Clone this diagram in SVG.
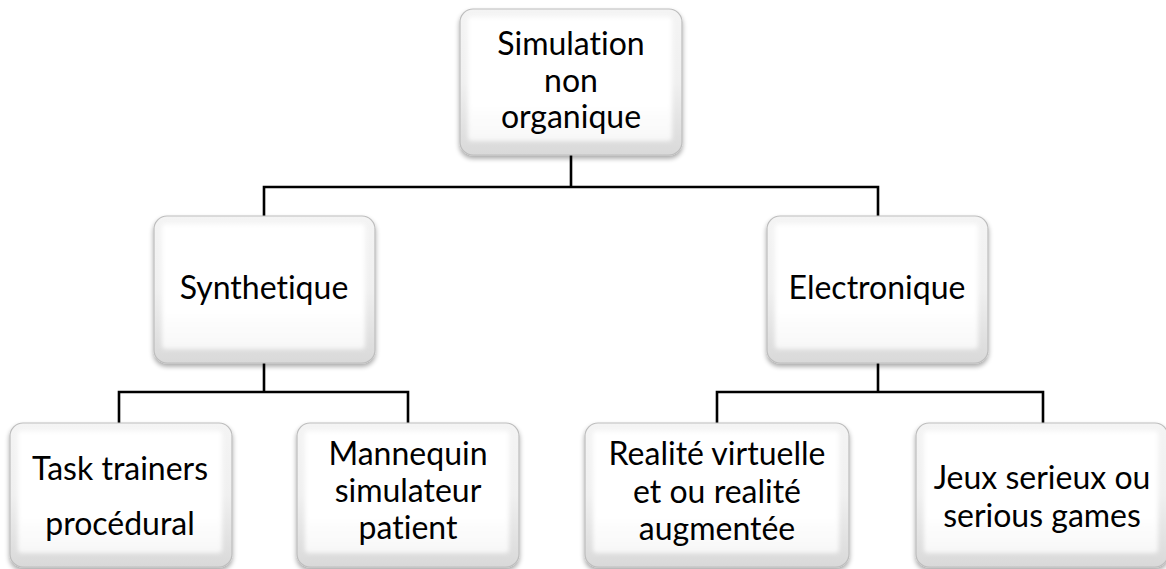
<svg xmlns="http://www.w3.org/2000/svg" width="1166" height="569" viewBox="0 0 1166 569">
  <defs>
    <linearGradient id="rim" x1="0" y1="0" x2="0" y2="1">
      <stop offset="0" stop-color="#f4f4f4"/>
      <stop offset="0.5" stop-color="#f0f0f0"/>
      <stop offset="1" stop-color="#d9d9d9"/>
    </linearGradient>
    <linearGradient id="face" x1="0" y1="0" x2="0" y2="1">
      <stop offset="0" stop-color="#ffffff"/>
      <stop offset="0.7" stop-color="#ffffff"/>
      <stop offset="1" stop-color="#f7f7f7"/>
    </linearGradient>
    <filter id="shadow" x="-10%" y="-10%" width="120%" height="125%">
      <feGaussianBlur in="SourceAlpha" stdDeviation="2.5"/>
      <feOffset dx="0" dy="3" result="b"/>
      <feComponentTransfer><feFuncA type="linear" slope="0.35"/></feComponentTransfer>
      <feMerge><feMergeNode/><feMergeNode in="SourceGraphic"/></feMerge>
    </filter>
    <filter id="soft" x="-5%" y="-5%" width="110%" height="110%">
      <feGaussianBlur stdDeviation="2"/>
    </filter>
  </defs>
  <style>
    .rim { fill: url(#rim); stroke: #bdbdbd; stroke-width: 1.2; filter: url(#shadow); }
    .face { fill: url(#face); filter: url(#soft); }
    .lbl { font-family: Lato, "Liberation Sans", sans-serif; font-size: 32px; fill: #000; text-anchor: middle; font-variant-ligatures: none; }
    .link { fill: none; stroke: #000; stroke-width: 2.6; }
  </style>

  <!-- connectors -->
  <g id="connectors">
    <path class="link" d="M571 155 V187 M264 216 V187 H878 V216"/>
    <path class="link" d="M264 363 V392 M119 423 V392 H408 V423"/>
    <path class="link" d="M878 363 V392 M717 423 V392 H1043 V423"/>
  </g>

  <!-- root -->
  <g id="node-root">
    <rect class="rim" x="460" y="9" width="222" height="146" rx="13"/>
    <rect class="face" x="468" y="17" width="204" height="124" rx="4"/>
    <text class="lbl" x="571" y="55">Simulation</text>
    <text class="lbl" x="571" y="92">non</text>
    <text class="lbl" x="571" y="128">organique</text>
  </g>

  <g id="node-synthetique">
    <rect class="rim" x="154" y="216" width="221" height="147" rx="13"/>
    <rect class="face" x="162" y="224" width="203" height="125" rx="4"/>
    <text class="lbl" x="264" y="299">Synthetique</text>
  </g>

  <g id="node-electronique">
    <rect class="rim" x="767" y="216" width="221" height="147" rx="13"/>
    <rect class="face" x="775" y="224" width="203" height="125" rx="4"/>
    <text class="lbl" x="877" y="299">Electronique</text>
  </g>

  <g id="node-task-trainers">
    <rect class="rim" x="10" y="423" width="222" height="144" rx="13"/>
    <rect class="face" x="18" y="431" width="204" height="122" rx="4"/>
    <text class="lbl" x="120" y="480">Task trainers</text>
    <text class="lbl" x="120" y="535">procédural</text>
  </g>

  <g id="node-mannequin">
    <rect class="rim" x="297" y="423" width="222" height="144" rx="13"/>
    <rect class="face" x="305" y="431" width="204" height="122" rx="4"/>
    <text class="lbl" x="408" y="465">Mannequin</text>
    <text class="lbl" x="408" y="502">simulateur</text>
    <text class="lbl" x="408" y="539">patient</text>
  </g>

  <g id="node-realite">
    <rect class="rim" x="585" y="423" width="264" height="144" rx="13"/>
    <rect class="face" x="593" y="431" width="246" height="122" rx="4"/>
    <text class="lbl" x="717" y="465">Realité virtuelle</text>
    <text class="lbl" x="717" y="503">et ou realité</text>
    <text class="lbl" x="717" y="540">augmentée</text>
  </g>

  <g id="node-jeux">
    <rect class="rim" x="916" y="423" width="252" height="144" rx="13"/>
    <rect class="face" x="924" y="431" width="234" height="122" rx="4"/>
    <text class="lbl" x="1042" y="489">Jeux serieux ou</text>
    <text class="lbl" x="1042" y="527">serious games</text>
  </g>
</svg>
